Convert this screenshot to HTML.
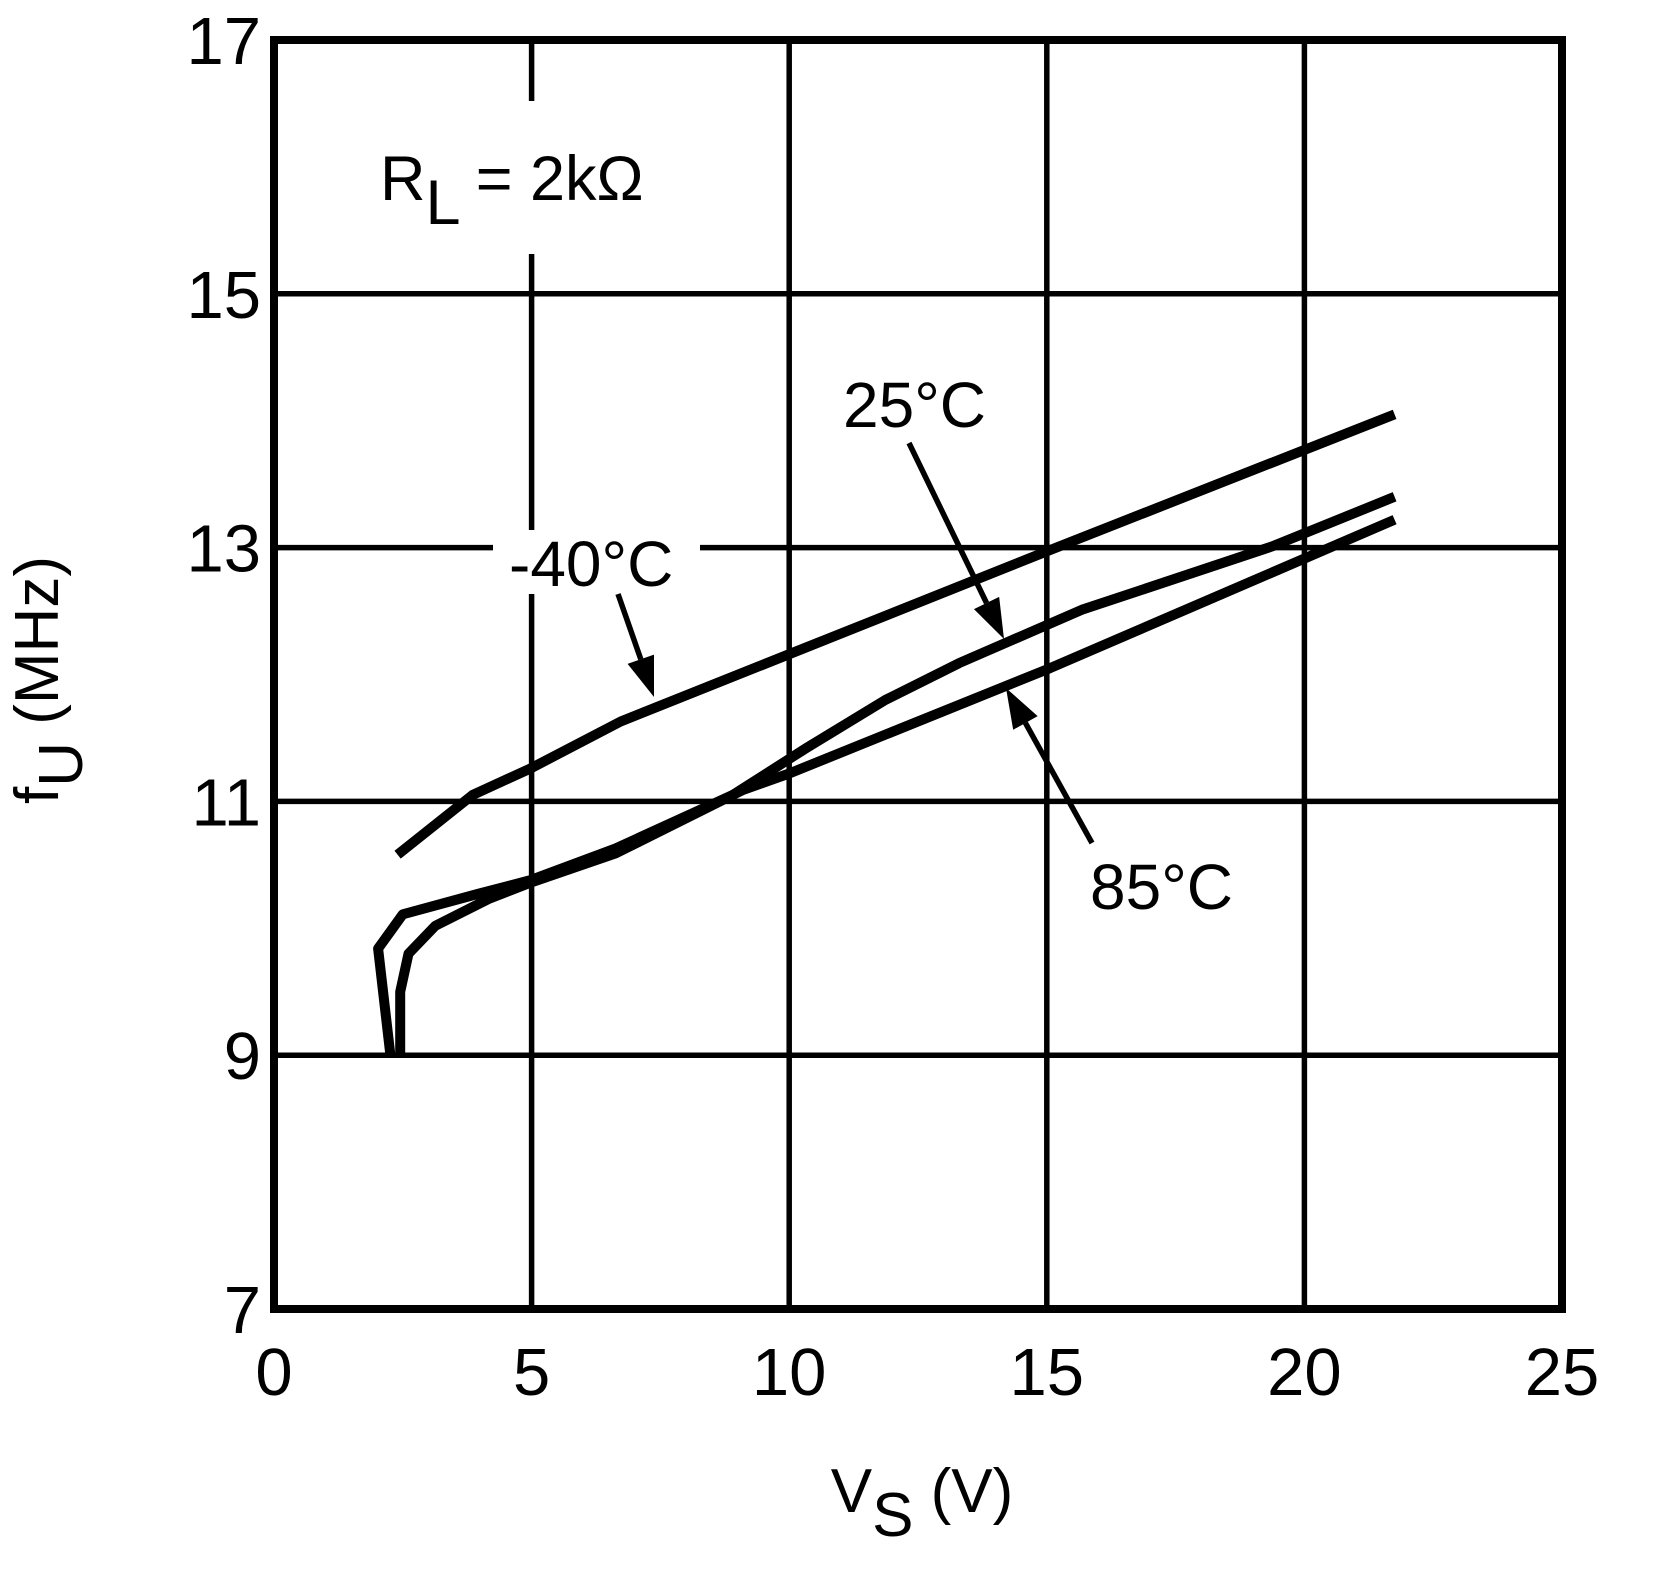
<!DOCTYPE html>
<html><head><meta charset="utf-8"><style>
html,body{margin:0;padding:0;background:#fff;}
svg{display:block;font-family:"Liberation Sans",Arial,sans-serif;}
</style></head><body>
<svg id="chart" width="1664" height="1574" viewBox="0 0 1664 1574" xmlns="http://www.w3.org/2000/svg">
<rect width="1664" height="1574" fill="#fff"/>
<g id="grid"></g>
<g id="ticks"></g>
<g id="series"></g>
<g id="annot"></g>
</svg>
<script>
const xTicks=[0,5,10,15,20,25];
const yTicks=[7,9,11,13,15,17];
const vM40=[2.4,3.85,4.98,6.73,10.0,15.06,21.75];
const fM40=[10.58,11.05,11.26,11.63,12.16,12.98,14.05];
const v25=[2.26,2.02,2.5,3.95,4.98,6.63,8.9,10.33,11.87,13.3,15.68,19.38,21.75];
const f25=[9.0,9.84,10.11,10.27,10.38,10.63,11.05,11.42,11.8,12.09,12.51,13.01,13.4];
const v85=[2.45,2.45,2.61,3.13,4.16,4.98,6.63,9.1,10.0,15.06,21.75];
const f85=[9.0,9.5,9.8,10.02,10.23,10.36,10.59,11.09,11.22,12.05,13.22];

const X0=274,X1=1562,Y0=1309,Y1=40;
const sx=v=>X0+(v-0)/(25-0)*(X1-X0);
const sy=f=>Y0-(f-7)/(17-7)*(Y0-Y1);
const NS='http://www.w3.org/2000/svg';
function mk(tag,attrs,parent){const e=document.createElementNS(NS,tag);for(const k in attrs)e.setAttribute(k,attrs[k]);parent.appendChild(e);return e;}
const grid=document.getElementById('grid'),ticks=document.getElementById('ticks'),series=document.getElementById('series'),annot=document.getElementById('annot');

xTicks.forEach(t=>{
  const l=mk('line',{x1:sx(t),x2:sx(t),y1:Y1,y2:Y0,stroke:'#000','stroke-width':5.5},grid);
  
  
  const tx=mk('text',{x:sx(t),y:1395,'font-size':67,'text-anchor':'middle'},ticks);
  tx.textContent=t;
  
  
});
yTicks.forEach(t=>{
  const l=mk('line',{x1:X0,x2:X1,y1:sy(t),y2:sy(t),stroke:'#000','stroke-width':5.5},grid);
  
  
  const tx=mk('text',{x:261,y:sy(t)+24,'font-size':67,'text-anchor':'end'},ticks);
  tx.textContent=t;
  
  
});
const frame=mk('rect',{x:X0,y:Y1,width:X1-X0,height:Y0-Y1,fill:'none',stroke:'#000','stroke-width':8},grid);



function line(vs,fs,name){
  const d=vs.map((v,i)=>(i?'L':'M')+sx(v).toFixed(1)+' '+sy(fs[i]).toFixed(1)).join(' ');
  const p=mk('path',{d:d,fill:'none',stroke:'#000','stroke-width':10,'stroke-linejoin':'round'},series);
  
  
}
line(vM40,fM40,'series-minus40c');
line(v25,f25,'series-25c');
line(v85,f85,'series-85c');

const bg1=mk('rect',{x:493,y:530,width:207,height:64,fill:'#fff'},annot);


const bg2=mk('rect',{x:522,y:101,width:20,height:153,fill:'#fff'},annot);



function label(txt,x,y,name){
  const t=mk('text',{x:x,y:y,'font-size':64},annot);
  t.textContent=txt;
  
  
  return t;
}
label('-40°C',509,586,'label-minus40c');
label('25°C',843,427,'label-25c');
label('85°C',1090,909,'label-85c');

const rl=mk('text',{x:380,y:200,'font-size':63},annot);
rl.innerHTML='R<tspan dy="24">L</tspan><tspan dy="-24"> = 2kΩ</tspan>';



function arrow(x1,y1,x2,y2,name){
  const g=mk('g',{},annot);
  
  
  const a=Math.atan2(y2-y1,x2-x1),L=40,W=14;
  const bx=x2-L*Math.cos(a),by=y2-L*Math.sin(a);
  mk('line',{x1:x1,y1:y1,x2:bx,y2:by,stroke:'#000','stroke-width':5.5},g);
  const px=-Math.sin(a)*W,py=Math.cos(a)*W;
  mk('polygon',{points:`${x2},${y2} ${bx+px},${by+py} ${bx-px},${by-py}`,fill:'#000'},g);
}
arrow(618,594,654,697,'arrow-minus40c');
arrow(909,443,1004,639,'arrow-25c');
arrow(1092,843,1006,688,'arrow-85c');

const yt=mk('text',{x:0,y:0,'font-size':62,'text-anchor':'middle',transform:'translate(58,680) rotate(-90)'},annot);
yt.innerHTML='f<tspan dy="24">U</tspan><tspan dy="-24"> (MHz)</tspan>';


const xt=mk('text',{x:922,y:1512,'font-size':62,'text-anchor':'middle'},annot);
xt.innerHTML='V<tspan dy="24">S</tspan><tspan dy="-24"> (V)</tspan>';


</script>
</body></html>
